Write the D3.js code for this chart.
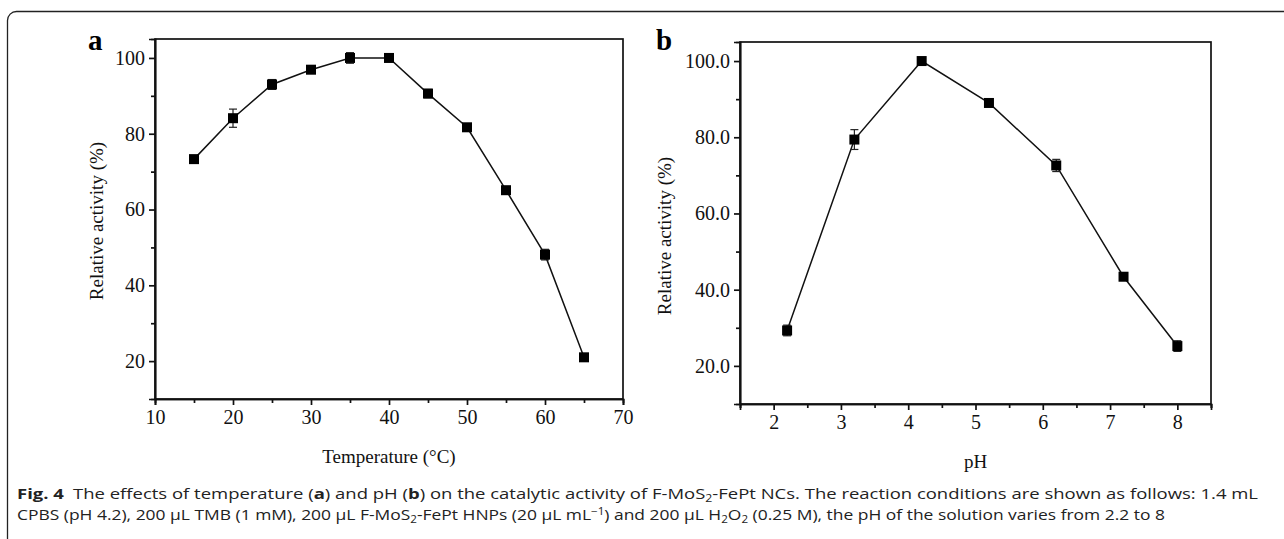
<!DOCTYPE html>
<html lang="en">
<head>
<meta charset="UTF-8">
<title>Fig. 4</title>
<script src="https://d3js.org/d3.v7.min.js"></script>
<style>
  body { margin: 0; padding: 0; background: #fff; }
  svg { display: block; }
  .tick text { font-family: "Liberation Serif", "Times New Roman", serif; }
</style>
</head>
<body>
<svg id="canvas"></svg>
<script>
const W = 1284, H = 539;

// panel a: temperature
const tempX = [15, 20, 25, 30, 35, 40, 45, 50, 55, 60, 65];
const tempY = [73.3, 84.1, 93.0, 96.9, 100, 100, 90.6, 81.7, 65.1, 48.1, 21.0];
const tempErr = [0.8, 2.4, 1.3, 0.5, 1.4, 0.4, 1.1, 0.5, 0.4, 1.4, 0.4];
const tempTicks = [10, 20, 30, 40, 50, 60, 70];
const tempMinor = [15, 25, 35, 45, 55, 65];

// panel b: pH
const phX = [2.2, 3.2, 4.2, 5.2, 6.2, 7.2, 8];
const phY = [29.3, 79.4, 100, 89.0, 72.6, 43.4, 25.2];
const phErr = [1.4, 2.6, 0.4, 0.9, 1.6, 0.4, 1.4];
const phTicks = [2, 3, 4, 5, 6, 7, 8];
const phMinor = [1.5, 2.5, 3.5, 4.5, 5.5, 6.5, 7.5, 8.5];

const yTicks = [20, 40, 60, 80, 100];
const yMinor = [30, 50, 70, 90];

const svg = d3.select("#canvas").attr("width", W).attr("height", H);
svg.append("rect").attr("width", W).attr("height", H).attr("fill", "#fff");

// outer rounded frame (runs off right and bottom edge)
svg.append("rect")
  .attr("x", 7.5).attr("y", 11.5)
  .attr("width", 1300).attr("height", 536)
  .attr("rx", 9)
  .attr("fill", "none").attr("stroke", "#222").attr("stroke-width", 1.3);

function panel(o) {
  const g = svg.append("g");
  const x = d3.scaleLinear().domain(o.xDomain).range([o.left, o.right]);
  const y = d3.scaleLinear().domain([10, 105]).range([o.bottom, o.top]);

  // box
  g.append("rect")
    .attr("x", o.left).attr("y", o.top)
    .attr("width", o.right - o.left).attr("height", o.bottom - o.top)
    .attr("fill", "none").attr("stroke", "#111").attr("stroke-width", 1.7);

  g.append("g").attr("transform", `translate(0,${o.bottom})`)
    .call(d3.axisBottom(x).tickValues(o.xTicks).tickSize(6).tickPadding(5).tickFormat(d3.format("d")));
  g.append("g").attr("transform", `translate(0,${o.bottom})`)
    .call(d3.axisBottom(x).tickValues(o.xMinor).tickSize(4).tickFormat(""));

  g.append("g").attr("transform", `translate(${o.left},0)`)
    .call(d3.axisLeft(y).tickValues(yTicks).tickSize(6).tickPadding(4).tickFormat(o.yFmt));
  g.append("g").attr("transform", `translate(${o.left},0)`)
    .call(d3.axisLeft(y).tickValues(yMinor).tickSize(4).tickFormat(""));

  g.selectAll(".domain").attr("stroke", "#111").attr("stroke-width", 1.7);
  g.selectAll(".tick line").attr("stroke", "#111").attr("stroke-width", 1.7);
  g.selectAll(".tick text").attr("font-size", 20).attr("fill", "#111");

  const pts = o.xs.map((v, i) => ({ x: v, y: o.ys[i], e: o.err[i] }));

  g.append("path").datum(pts)
    .attr("fill", "none").attr("stroke", "#111").attr("stroke-width", 1.5)
    .attr("d", d3.line().x(d => x(d.x)).y(d => y(d.y)));

  // error bars
  const eb = g.selectAll(".eb").data(pts).enter().append("g")
    .attr("stroke", "#222").attr("stroke-width", 1.2);
  eb.append("line")
    .attr("x1", d => x(d.x)).attr("x2", d => x(d.x))
    .attr("y1", d => y(d.y + d.e)).attr("y2", d => y(d.y - d.e));
  eb.append("line")
    .attr("x1", d => x(d.x) - 4).attr("x2", d => x(d.x) + 4)
    .attr("y1", d => y(d.y + d.e)).attr("y2", d => y(d.y + d.e));
  eb.append("line")
    .attr("x1", d => x(d.x) - 4).attr("x2", d => x(d.x) + 4)
    .attr("y1", d => y(d.y - d.e)).attr("y2", d => y(d.y - d.e));

  g.selectAll(".pt").data(pts).enter().append("rect")
    .attr("x", d => x(d.x) - 5).attr("y", d => y(d.y) - 5)
    .attr("width", 10).attr("height", 10)
    .attr("fill", "#000");

  // panel letter
  g.append("text")
    .attr("x", o.letterX).attr("y", 50)
    .attr("font-family", "Liberation Serif, serif").attr("font-weight", "bold")
    .attr("font-size", 29).attr("fill", "#000")
    .text(o.letter);

  // axis titles
  g.append("text")
    .attr("transform", `translate(${o.yTitleX},${o.yTitleY}) rotate(-90)`)
    .attr("text-anchor", "middle")
    .attr("font-family", "Liberation Serif, serif").attr("font-size", 19).attr("fill", "#111")
    .text("Relative activity (%)");

  g.append("text")
    .attr("x", (o.left + o.right) / 2).attr("y", o.xTitleY)
    .attr("text-anchor", "middle")
    .attr("font-family", "Liberation Serif, serif").attr("font-size", 19).attr("fill", "#111")
    .text(o.xTitle);
}

panel({
  left: 155, right: 623, top: 39, bottom: 399,
  xDomain: [10, 70], xTicks: tempTicks, xMinor: tempMinor,
  xs: tempX, ys: tempY, err: tempErr,
  yFmt: d3.format("d"),
  letter: "a", letterX: 88,
  yTitleX: 103, yTitleY: 221,
  xTitle: "Temperature (\u00B0C)", xTitleY: 463
});

panel({
  left: 740, right: 1211, top: 42, bottom: 404,
  xDomain: [1.5, 8.5], xTicks: phTicks, xMinor: phMinor,
  xs: phX, ys: phY, err: phErr,
  yFmt: d3.format(".1f"),
  letter: "b", letterX: 656,
  yTitleX: 671, yTitleY: 236,
  xTitle: "pH", xTitleY: 468
});

// caption
const cap = svg.append("g")
  .attr("font-family", "Open Sans, Noto Sans, sans-serif")
  .attr("font-size", 15).attr("fill", "#222");

const l1 = cap.append("text").attr("x", 17).attr("y", 499)
  .attr("textLength", 1241).attr("lengthAdjust", "spacingAndGlyphs");
l1.append("tspan").attr("font-weight", "bold").text("Fig. 4");
l1.append("tspan").text("\u2002The effects of temperature (");
l1.append("tspan").attr("font-weight", "bold").text("a");
l1.append("tspan").text(") and pH (");
l1.append("tspan").attr("font-weight", "bold").text("b");
l1.append("tspan").text(") on the catalytic activity of F-MoS");
l1.append("tspan").attr("font-size", 10).attr("dy", 3).text("2");
l1.append("tspan").attr("dy", -3).text("-FePt NCs. The reaction conditions are shown as follows: 1.4 mL");

const l2 = cap.append("text").attr("x", 17).attr("y", 520)
  .attr("textLength", 1148).attr("lengthAdjust", "spacingAndGlyphs");
l2.append("tspan").text("CPBS (pH 4.2), 200 \u00B5L TMB (1 mM), 200 \u00B5L F-MoS");
l2.append("tspan").attr("font-size", 10).attr("dy", 3).text("2");
l2.append("tspan").attr("dy", -3).text("-FePt HNPs (20 \u00B5L mL");
l2.append("tspan").attr("font-size", 10).attr("dy", -5).text("\u22121");
l2.append("tspan").attr("dy", 5).text(") and 200 \u00B5L H");
l2.append("tspan").attr("font-size", 10).attr("dy", 3).text("2");
l2.append("tspan").attr("dy", -3).text("O");
l2.append("tspan").attr("font-size", 10).attr("dy", 3).text("2");
l2.append("tspan").attr("dy", -3).text(" (0.25 M), the pH of the solution varies from 2.2 to 8");
</script>
</body>
</html>
